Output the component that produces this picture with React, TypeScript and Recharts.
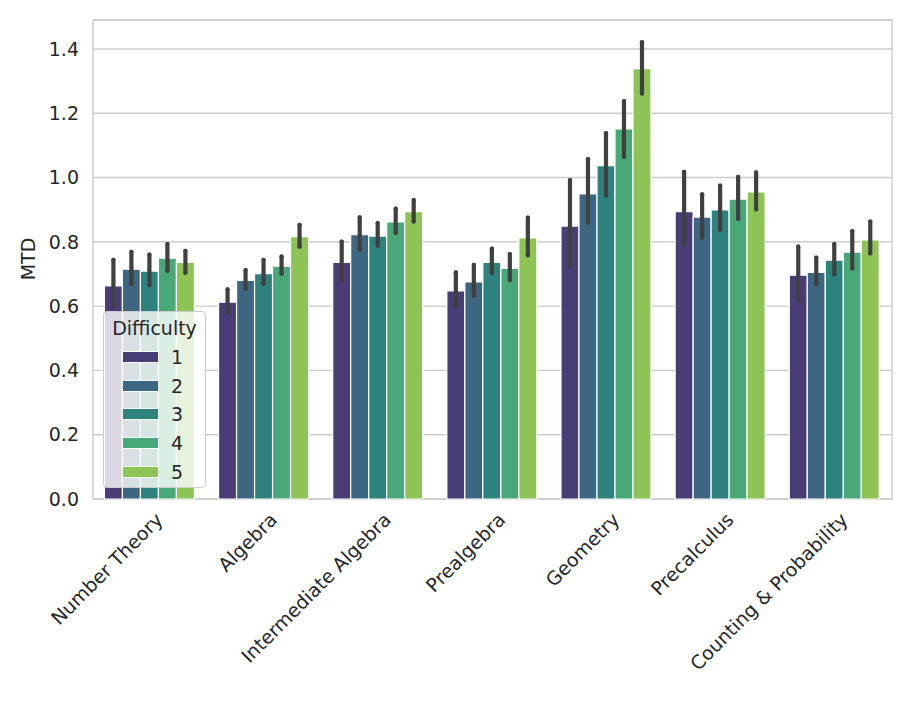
import React from 'react';
import { BarChart, Bar, XAxis, YAxis, CartesianGrid, ErrorBar, Legend, ReferenceArea } from 'recharts';

const categories = ['Number Theory', 'Algebra', 'Intermediate Algebra', 'Prealgebra', 'Geometry', 'Precalculus', 'Counting & Probability'];
const difficulties = ['1', '2', '3', '4', '5'];
const yTicks = [0, 0.2, 0.4, 0.6, 0.8, 1.0, 1.2, 1.4];

// mean MTD per difficulty level, one value per category
const meanD1 = [0.663, 0.612, 0.736, 0.647, 0.849, 0.894, 0.696];
const meanD2 = [0.715, 0.680, 0.822, 0.675, 0.949, 0.877, 0.705];
const meanD3 = [0.709, 0.701, 0.818, 0.736, 1.037, 0.899, 0.743];
const meanD4 = [0.749, 0.724, 0.862, 0.717, 1.151, 0.933, 0.768];
const meanD5 = [0.736, 0.816, 0.894, 0.812, 1.339, 0.955, 0.806];

// confidence interval ends
const lowD1 = [0.598, 0.580, 0.679, 0.598, 0.723, 0.793, 0.616];
const highD1 = [0.744, 0.652, 0.801, 0.705, 0.992, 1.018, 0.785];
const lowD2 = [0.668, 0.654, 0.775, 0.632, 0.860, 0.813, 0.668];
const highD2 = [0.769, 0.712, 0.876, 0.728, 1.057, 0.948, 0.751];
const lowD3 = [0.665, 0.669, 0.788, 0.703, 0.944, 0.837, 0.699];
const highD3 = [0.760, 0.744, 0.858, 0.779, 1.138, 0.975, 0.793];
const lowD4 = [0.710, 0.701, 0.828, 0.681, 1.064, 0.871, 0.717];
const highD4 = [0.793, 0.754, 0.903, 0.762, 1.238, 1.002, 0.833];
const lowD5 = [0.704, 0.785, 0.863, 0.758, 1.261, 0.901, 0.764];
const highD5 = [0.772, 0.853, 0.930, 0.875, 1.421, 1.016, 0.863];

const colors = ['#4a3d77', '#3d6682', '#2e827e', '#48a878', '#8ec455'];

const means = [meanD1, meanD2, meanD3, meanD4, meanD5];
const lows = [lowD1, lowD2, lowD3, lowD4, lowD5];
const highs = [highD1, highD2, highD3, highD4, highD5];

const data = categories.map((name, i) => {
  const row: any = { name };
  difficulties.forEach((d, k) => {
    const m = means[k][i];
    row['d' + d] = m;
    row['e' + d] = [m - lows[k][i], highs[k][i] - m];
  });
  return row;
});

const FONT = '"DejaVu Sans", sans-serif';
const FS = 19;
const TEXT = '#262626';
const GRID = '#cccccc';
const Y_MAX = 1.49;

const XTick = ({ x, y, payload }: any) => (
  <text
    x={0}
    y={0}
    transform={`translate(${x + 14}, ${y + 22}) rotate(-45)`}
    textAnchor="end"
    fontSize={FS}
    fontFamily={FONT}
    fill={TEXT}
  >
    {payload.value}
  </text>
);

const YLabel = () => (
  <text x={35} y={259} transform="rotate(-90 35 259)" textAnchor="middle" fontSize={FS} fontFamily={FONT} fill={TEXT}>
    MTD
  </text>
);

const LegendBox = () => (
  <div
    style={{
      position: 'relative',
      width: 103,
      height: 177,
      boxSizing: 'border-box',
      border: '1px solid #cccccc',
      borderRadius: 4,
      background: 'rgba(255,255,255,0.8)',
      fontFamily: FONT,
      fontSize: FS,
      color: TEXT,
    }}
  >
    <div style={{ position: 'absolute', left: 0, right: 0, top: 4, textAlign: 'center', lineHeight: '24px' }}>Difficulty</div>
    {difficulties.map((d, k) => (
      <React.Fragment key={d}>
        <div
          style={{
            position: 'absolute',
            left: 18,
            top: 39 + k * 28.7,
            width: 37,
            height: 12,
            background: colors[k],
            border: '1px solid #fff',
            boxSizing: 'border-box',
          }}
        />
        <div style={{ position: 'absolute', left: 67, top: 33 + k * 28.7, lineHeight: '24px' }}>{d}</div>
      </React.Fragment>
    ))}
  </div>
);

export default function App() {
  return (
    <div style={{ position: 'absolute', left: 0, top: 0, background: '#fff' }}>
      <BarChart
        width={914}
        height={703}
        data={data}
        margin={{ top: 20, right: 22, bottom: 14, left: 13 }}
        barCategoryGap="10%"
        barGap={0}
      >
        <CartesianGrid vertical={false} stroke={GRID} strokeWidth={1.4} />
        <XAxis
          dataKey="name"
          axisLine={false}
          tickLine={false}
          tickSize={0}
          tickMargin={0}
          interval={0}
          height={190}
          tick={<XTick />}
        />
        <YAxis
          type="number"
          domain={[0, Y_MAX]}
          ticks={yTicks}
          tickFormatter={(v: number) => v.toFixed(1)}
          axisLine={false}
          tickLine={false}
          tickSize={0}
          tickMargin={14}
          width={80}
          tick={{ fontSize: FS, fontFamily: FONT, fill: TEXT }}
          label={<YLabel />}
        />
        {difficulties.map((d, k) => (
          <Bar key={d} dataKey={'d' + d} name={d} fill={colors[k]} stroke="#ffffff" strokeWidth={1.2} isAnimationActive={false}>
            <ErrorBar
              dataKey={'e' + d}
              width={0}
              stroke="#404040"
              strokeWidth={4.2}
              strokeLinecap="round"
              direction="y"
              isAnimationActive={false}
            />
          </Bar>
        ))}
        <ReferenceArea y1={0} y2={Y_MAX} fill="none" stroke={GRID} strokeWidth={1.4} ifOverflow="visible" />
        <Legend
          layout="horizontal"
          verticalAlign="middle"
          align="center"
          content={<LegendBox />}
          wrapperStyle={{ left: 103, top: 311, width: 103 }}
        />
      </BarChart>
    </div>
  );
}
